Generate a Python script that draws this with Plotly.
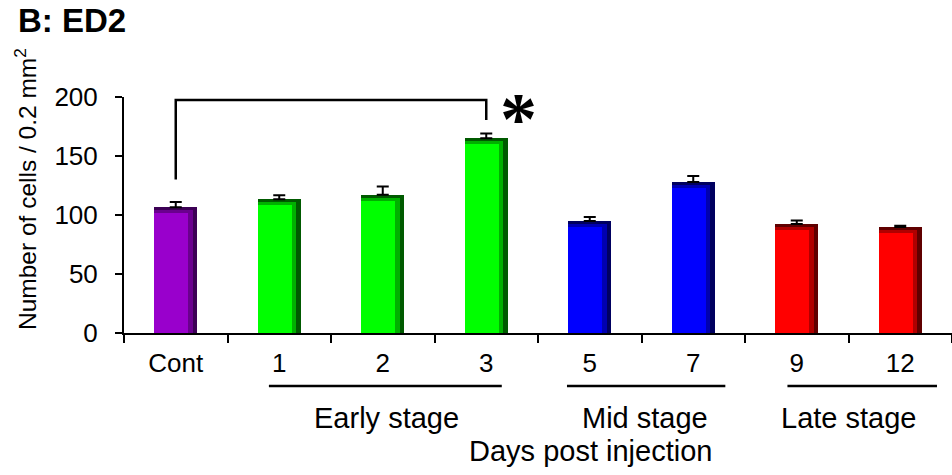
import plotly.graph_objects as go

# ---- data ----
categories = ["Cont", "1", "2", "3", "5", "7", "9", "12"]
cell_counts = [106.5, 113.3, 117.2, 165.0, 94.9, 128.0, 92.4, 89.8]
sem_values = [4.5, 3.5, 7.0, 4.0, 3.5, 5.0, 3.0, 1.0]
stage_of_bar = ["control", "early", "early", "early", "mid", "mid", "late", "late"]
y_tick_values = [0, 50, 100, 150, 200]
group_names = ["Early stage", "Mid stage", "Late stage"]
bracket_levels = [130, 197.5, 197.5, 180.5]   # Cont rise, top, top, day-3 drop
bracket_categories = ["Cont", "Cont", "3", "3"]

# ---- style ----
FONT = "Liberation Sans, Arial, Helvetica, sans-serif"
face_colors = {"control": "#9900CC", "early": "#00FF00", "mid": "#0000FF", "late": "#FF0000"}
mid_colors = {"control": "#6a008e", "early": "#00b000", "mid": "#0000b0", "late": "#b00000"}
dark_colors = {"control": "#3c0055", "early": "#005a00", "mid": "#000060", "late": "#600000"}

BAR_W = 0.415
L, R, T, B = 124, 0, 97, 142

fig = go.Figure()

# bevel layers (dark full bar, mid shade, face)
fig.add_trace(go.Bar(
    x=categories, y=cell_counts, width=BAR_W, offset=-BAR_W / 2,
    marker=dict(color=[dark_colors[s] for s in stage_of_bar], line=dict(width=0), opacity=1),
    hoverinfo="skip", showlegend=False))
fig.add_trace(go.Bar(
    x=categories, y=[v - 2.5 for v in cell_counts], width=BAR_W - 0.045, offset=-BAR_W / 2,
    marker=dict(color=[mid_colors[s] for s in stage_of_bar], line=dict(width=0), opacity=1),
    hoverinfo="skip", showlegend=False))
fig.add_trace(go.Bar(
    x=categories, y=[v - 5 for v in cell_counts], width=BAR_W - 0.085, offset=-BAR_W / 2,
    marker=dict(color=[face_colors[s] for s in stage_of_bar], line=dict(width=0), opacity=1),
    hovertemplate="%{x}: %{y}<extra></extra>", showlegend=False))

# one-sided error bars
fig.add_trace(go.Scatter(
    x=categories, y=cell_counts, mode="markers",
    marker=dict(color="rgba(0,0,0,0)", size=1),
    error_y=dict(type="data", array=sem_values, arrayminus=[0] * len(sem_values),
                 symmetric=False, color="black", thickness=2, width=6),
    hoverinfo="skip", showlegend=False))

# significance bracket
fig.add_trace(go.Scatter(
    x=bracket_categories, y=bracket_levels, mode="lines",
    line=dict(color="black", width=2.5), hoverinfo="skip", showlegend=False))

fig.add_annotation(x=3.31, y=181, xref="x", yref="y", text="<b>*</b>", showarrow=False,
                   font=dict(family="Liberation Serif, Times New Roman, serif", size=74, color="black"),
                   xanchor="center", yanchor="middle")

# group underlines + labels
group_spans = [(0.90, 3.15), (3.78, 5.31), (5.91, 7.355)]
group_label_x = [2.04, 4.53, 6.5]
for (x0, x1), name, gx in zip(group_spans, group_names, group_label_x):
    fig.add_shape(type="line", xref="x", yref="paper", x0=x0, x1=x1,
                  y0=-0.2246, y1=-0.2246, line=dict(color="black", width=2.5))
    fig.add_annotation(x=gx, y=-0.36, xref="x", yref="paper", text=name, showarrow=False,
                       font=dict(family=FONT, size=29, color="black"),
                       xanchor="center", yanchor="middle")

fig.add_annotation(x=4.01, y=-0.50, xref="x", yref="paper", text="Days post injection",
                   showarrow=False, font=dict(family=FONT, size=29, color="black"),
                   xanchor="center", yanchor="middle")

fig.add_annotation(x=-0.119, y=0.612, xref="paper", yref="paper",
                   text="Number of cells / 0.2 mm<sup>2</sup>", textangle=-90, showarrow=False,
                   font=dict(family=FONT, size=24.5, color="black"),
                   xanchor="center", yanchor="middle")

fig.add_annotation(x=-0.131, y=1.326, xref="paper", yref="paper", text="<b>B: ED2</b>",
                   showarrow=False, font=dict(family=FONT, size=33, color="black"),
                   xanchor="left", yanchor="middle")

fig.update_layout(
    width=952, height=475,
    margin=dict(l=L, r=R, t=T, b=B, pad=0),
    paper_bgcolor="white", plot_bgcolor="white",
    barmode="overlay", bargap=0,
    font=dict(family=FONT, size=26, color="black"),
    xaxis=dict(type="category", categoryorder="array", categoryarray=categories,
               range=[-0.5, 7.5], showline=True, linecolor="black", linewidth=2,
               ticks="outside", tickson="boundaries", ticklen=8, tickwidth=2, tickcolor="black",
               showgrid=False, zeroline=False, ticklabelstandoff=6, automargin=False,
               tickfont=dict(family=FONT, size=26, color="black")),
    yaxis=dict(range=[0, 200], tickvals=y_tick_values, showline=True, linecolor="black",
               linewidth=2, ticks="outside", ticklen=7, tickwidth=2, tickcolor="black",
               showgrid=False, zeroline=False, ticklabelstandoff=12, automargin=False,
               tickfont=dict(family=FONT, size=26, color="black")),
)

fig.write_html("out.html", config={"displayModeBar": False},
               post_script="document.body.style.margin='0px';document.body.style.overflow='hidden';")
